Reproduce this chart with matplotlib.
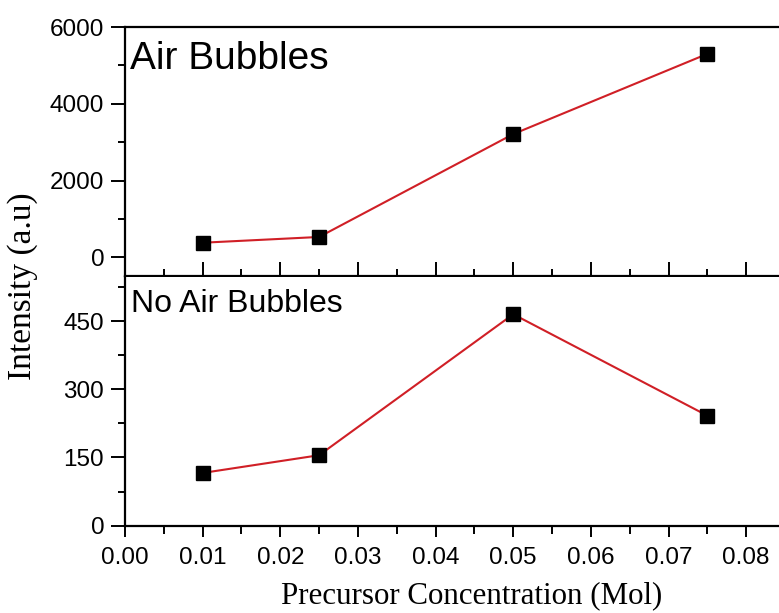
import matplotlib
matplotlib.use("Agg")
import matplotlib.pyplot as plt
from matplotlib.ticker import MultipleLocator

# precursor concentration (Mol)
conc = [0.01, 0.025, 0.05, 0.075]
# intensity with / without air bubbles
air_bubbles = [380, 530, 3210, 5300]
no_air_bubbles = [116, 155, 465, 242]

LINE_COLOR = "#d01f26"
plt.rcParams["font.family"] = "Liberation Sans"

fig = plt.figure(figsize=(7.79, 6.13), dpi=100)
W, H = 779, 613
left = 125 / W
width = (785 - 125) / W
y_top, y_mid, y_bot = 27, 276.5, 525.7

ax1 = fig.add_axes([left, 1 - y_mid / H, width, (y_mid - y_top) / H])
ax2 = fig.add_axes([left, 1 - y_bot / H, width, (y_bot - y_mid) / H])

for ax, vals in [(ax1, air_bubbles), (ax2, no_air_bubbles)]:
    ax.plot(conc, vals, color=LINE_COLOR, lw=1.5, marker="s", ms=10.5,
            mfc="black", mec="black", zorder=3)
    ax.set_xlim(0, 0.085)
    ax.xaxis.set_major_locator(MultipleLocator(0.01))
    ax.xaxis.set_minor_locator(MultipleLocator(0.005))
    ax.spines["right"].set_visible(False)
    for s in ax.spines.values():
        s.set_linewidth(1.6)
    ax.tick_params(axis="y", which="major", direction="out", length=10, width=1.4,
                   labelsize=17.5, pad=5)
    ax.tick_params(axis="y", which="minor", direction="out", length=5, width=1.4)

# top panel
ax1.set_ylim(-500, 6000)
ax1.yaxis.set_major_locator(MultipleLocator(2000))
ax1.yaxis.set_minor_locator(MultipleLocator(1000))
ax1.tick_params(axis="x", which="major", direction="in", length=10, width=1.4,
                labelbottom=False)
ax1.tick_params(axis="x", which="minor", direction="in", length=5, width=1.4)
ax1.text(0.007, 0.832, "Air Bubbles", transform=ax1.transAxes, fontsize=28,
         va="baseline", ha="left")

# bottom panel
ax2.set_ylim(0, 548)
ax2.yaxis.set_major_locator(MultipleLocator(150))
ax2.yaxis.set_minor_locator(MultipleLocator(75))
ax2.spines["top"].set_visible(False)
ax2.tick_params(axis="x", which="major", direction="out", length=8, width=1.4,
                labelsize=17.5, pad=7)
ax2.tick_params(axis="x", which="minor", direction="out", length=6, width=1.4)
ax2.xaxis.set_major_formatter(plt.FuncFormatter(lambda v, p: f"{v:.2f}"))
ax2.text(0.009, 0.858, "No Air Bubbles", transform=ax2.transAxes, fontsize=23,
         va="baseline", ha="left")

fig.text(23 / W, 1 - 286 / H, "Intensity (a.u)", rotation=90, ha="center",
         va="center", fontsize=24, family="Liberation Serif")
fig.text(472 / W, 1 - 596 / H, "Precursor Concentration (Mol)", ha="center",
         va="center", fontsize=22.3, family="Liberation Serif")

fig.savefig("out.png", dpi=100)
